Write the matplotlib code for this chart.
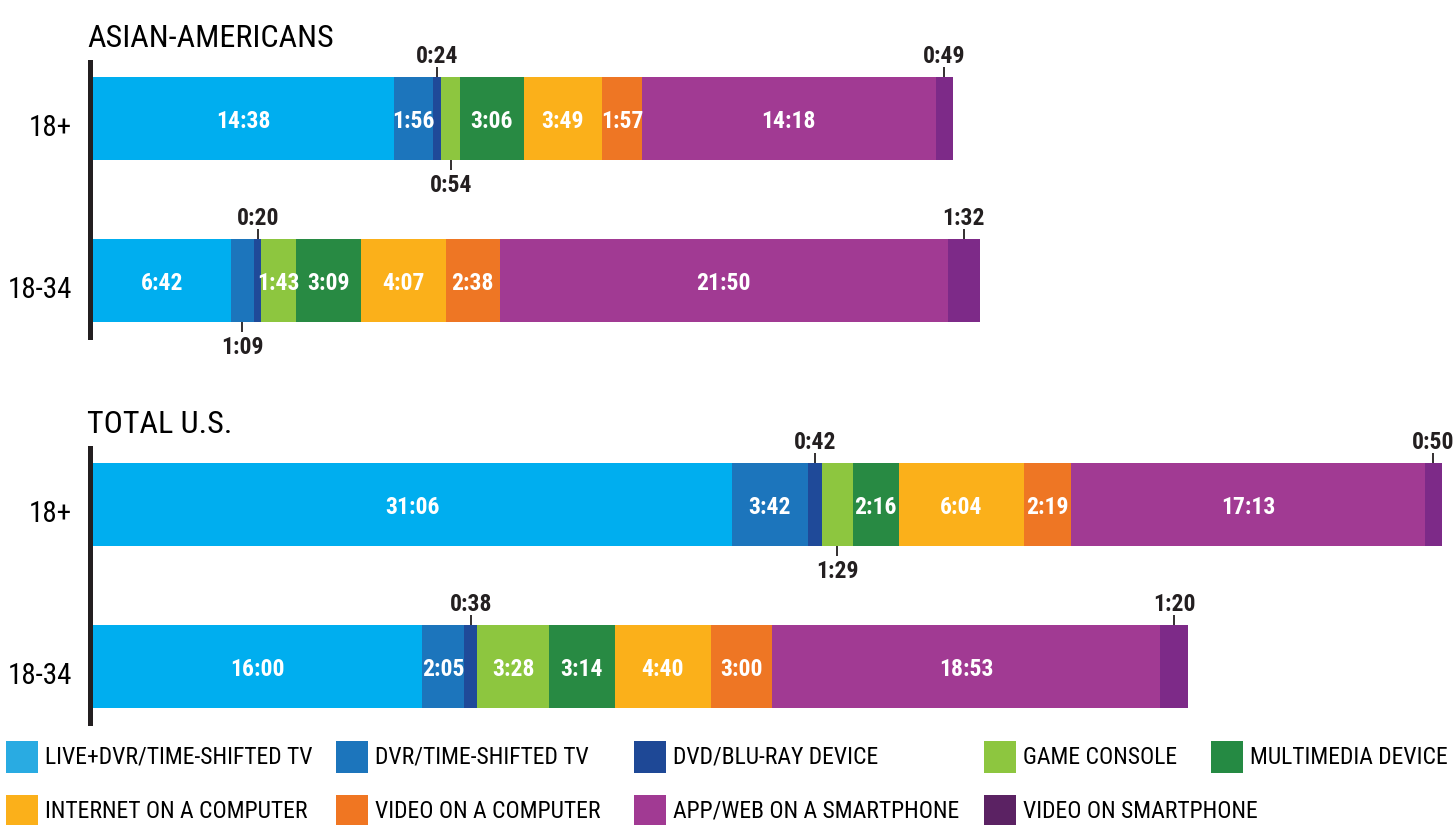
import matplotlib
matplotlib.use("Agg")
import matplotlib.pyplot as plt
from matplotlib.patches import Rectangle

# ---------------- data ----------------
categories = ["LIVE+DVR/TIME-SHIFTED TV", "DVR/TIME-SHIFTED TV", "DVD/BLU-RAY DEVICE",
              "GAME CONSOLE", "MULTIMEDIA DEVICE", "INTERNET ON A COMPUTER",
              "VIDEO ON A COMPUTER", "APP/WEB ON A SMARTPHONE", "VIDEO ON SMARTPHONE"]
panels = ["ASIAN-AMERICANS", "TOTAL U.S."]
age_groups = ["18+", "18-34"]

asian_18plus = ["14:38", "1:56", "0:24", "0:54", "3:06", "3:49", "1:57", "14:18", "0:49"]
asian_18_34 = ["6:42", "1:09", "0:20", "1:43", "3:09", "4:07", "2:38", "21:50", "1:32"]
total_18plus = ["31:06", "3:42", "0:42", "1:29", "2:16", "6:04", "2:19", "17:13", "0:50"]
total_18_34 = ["16:00", "2:05", "0:38", "3:28", "3:14", "4:40", "3:00", "18:53", "1:20"]

# ---------------- styles ----------------
bar_colors = ["#00AEEF", "#1C75BC", "#1F4A99", "#8DC63F", "#288A43",
              "#FBB01A", "#EE7624", "#A13A93", "#7D2A88"]
legend_colors = ["#29ABE2", "#1C75BC", "#1E4896", "#8DC63F", "#258A43",
                 "#FBB01A", "#F07622", "#A13A93", "#5B2263"]
# label placement per segment: i=inside, u=above, d=below
label_pos = {
    ("ASIAN-AMERICANS", "18+"):   ["i", "i", "u", "d", "i", "i", "i", "i", "u"],
    ("ASIAN-AMERICANS", "18-34"): ["i", "d", "u", "i", "i", "i", "i", "i", "u"],
    ("TOTAL U.S.", "18+"):        ["i", "i", "u", "d", "i", "i", "i", "i", "u"],
    ("TOTAL U.S.", "18-34"):      ["i", "i", "u", "i", "i", "i", "i", "i", "u"],
}
panel_data = {
    "ASIAN-AMERICANS": [asian_18plus, asian_18_34],
    "TOTAL U.S.": [total_18plus, total_18_34],
}

FONT = ["Roboto Condensed", "Liberation Sans Narrow", "DejaVu Sans Condensed", "DejaVu Sans"]
plt.rcParams["font.family"] = FONT
DARK = "#231F20"

W, H = 1455, 825
fig = plt.figure(figsize=(W / 100, H / 100), dpi=100)

def to_min(s):
    h, m = s.split(":")
    return int(h) * 60 + int(m)

PX_PER_MIN = 0.3423
LEFT_PX = 93
XMAX = (W - LEFT_PX) / PX_PER_MIN
UNIT_PX = 162.0          # pixels between bar centres
BAR_H = 83 / UNIT_PX
TICK = 10 / UNIT_PX
GAP = 4 / UNIT_PX

panel_top_px = [62, 448]
title_base_px = [47, 433]

for p, panel in enumerate(panels):
    top = panel_top_px[p]
    ax = fig.add_axes([LEFT_PX / W, 1 - (top + 275) / H, (W - LEFT_PX) / W, 275 / H])
    ax.set_xlim(0, XMAX)
    ax.set_ylim(1 + 56.5 / UNIT_PX, -56.5 / UNIT_PX)
    for s in ["top", "right", "bottom"]:
        ax.spines[s].set_visible(False)
    ax.spines["left"].set_linewidth(3.6)
    ax.spines["left"].set_color(DARK)
    ax.spines["left"].set_position(("outward", 1.8))
    ax.set_xticks([])
    ax.set_yticks([])
    ax.patch.set_alpha(0)

    for r, grp in enumerate(age_groups):
        vals = [to_min(v) for v in panel_data[panel][r]]
        texts = panel_data[panel][r]
        left = 0
        for k, v in enumerate(vals):
            ax.barh(r, v, left=left, height=BAR_H, color=bar_colors[k], linewidth=0)
            xc = left + v / 2
            pos = label_pos[(panel, grp)][k]
            if pos == "i":
                ax.text(xc, r + 0.02, texts[k], ha="center", va="center", color="white",
                        fontsize=17, fontweight="bold")
            elif pos == "u":
                y0 = r - BAR_H / 2
                ax.plot([xc, xc], [y0, y0 - TICK], color=DARK, lw=1.3, solid_capstyle="butt")
                ax.text(xc, y0 - TICK - GAP, texts[k], ha="center", va="baseline",
                        color=DARK, fontsize=17, fontweight="bold")
            else:
                y0 = r + BAR_H / 2
                ax.plot([xc, xc], [y0, y0 + TICK], color=DARK, lw=1.3, solid_capstyle="butt")
                ax.text(xc, y0 + TICK + GAP, texts[k], ha="center", va="top",
                        color=DARK, fontsize=17, fontweight="bold")
            left += v
        ax.text(-21 / PX_PER_MIN, r + 0.06, grp, ha="right", va="center",
                color="black", fontsize=21)

    fig.text(87 / W, 1 - title_base_px[p] / H, panel, ha="left", va="baseline",
             color="black", fontsize=23)

# ---------------- legend ----------------
swatch_x = [6, 336, 634, 984, 1211, 6, 336, 634, 984]
row_y = [741, 795]
for k, name in enumerate(categories):
    row = 0 if k < 5 else 1
    x = swatch_x[k]
    y = row_y[row]
    fig.patches.append(Rectangle((x / W, 1 - (y + 32) / H), 32 / W, 32 / H,
                                 transform=fig.transFigure, color=legend_colors[k], lw=0))
    fig.text((x + 39) / W, 1 - (y + 16) / H, name, ha="left", va="center",
             color="black", fontsize=17)

fig.savefig("out.png", dpi=100)
